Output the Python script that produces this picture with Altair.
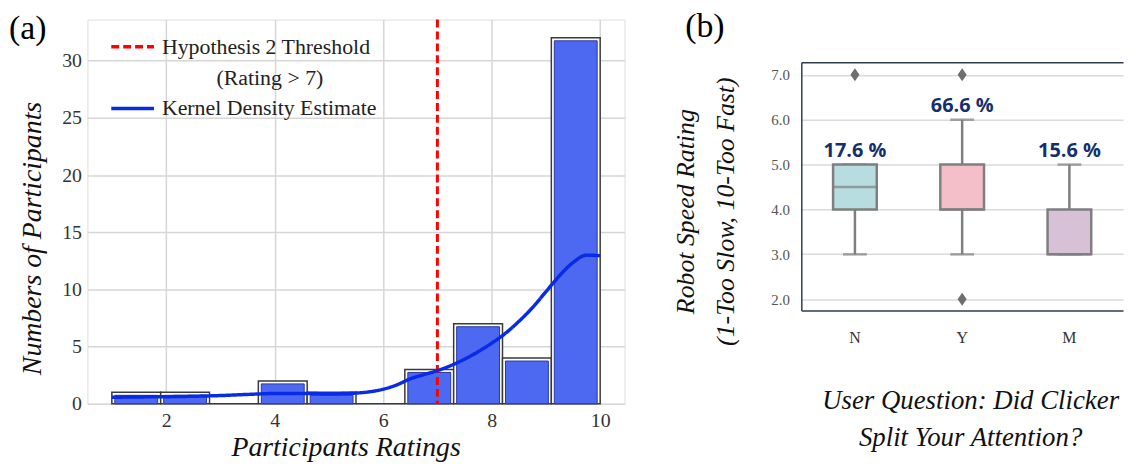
import altair as alt
import pandas as pd

SERIF = "Liberation Serif"
SANS = "Open Sans"
FRAME = "#2f3e4e"

# ---------------- Panel (a) data ----------------
bin_start = [1.0, 1.9, 2.8, 3.7, 4.6, 5.5, 6.4, 7.3, 8.2, 9.1]
bin_end = [1.9, 2.8, 3.7, 4.6, 5.5, 6.4, 7.3, 8.2, 9.1, 10.0]
counts = [1, 1, 0, 2, 1, 0, 3, 7, 4, 32]

kde_x = [1.0, 1.5, 2.0, 2.5, 3.0, 3.5, 4.0, 4.5, 5.0, 5.5, 5.75, 6.0, 6.25, 6.5,
         6.75, 7.0, 7.25, 7.5, 7.75, 8.0, 8.25, 8.5, 8.75, 9.0, 9.25, 9.5, 9.75, 10.0]
kde_y = [0.57, 0.60, 0.62, 0.66, 0.72, 0.82, 0.90, 0.91, 0.88, 0.94, 1.05, 1.27, 1.65, 2.18,
         2.55, 2.90, 3.35, 3.90, 4.55, 5.30, 6.15, 7.20, 8.40, 9.80, 11.20, 12.35, 13.00, 12.95]

threshold = [7]

legend_items = ["Hypothesis 2 Threshold", "\u200b" + "\u2002" * 5 + "(Rating > 7)",
                "Kernel Density Estimate"]
legend_colors = ["#ff0000", "rgba(0,0,0,0)", "#0a2be6"]
legend_dashes = [[8, 4], [1, 0], [1, 0]]

# ---------------- Panel (b) data ----------------
cats = ["N", "Y", "M"]
q1 = [4, 4, 3]
med = [4.5, 4, 3]
q3 = [5, 5, 4]
lo = [3, 3, 3]
hi = [5, 6, 5]
pct_labels = ["17.6 %", "66.6 %", "15.6 %"]
box_colors = ["#b8dde1", "#f5bfc9", "#d6c1d6"]

out_cat = ["N", "Y", "Y"]
out_val = [7, 7, 2]

y_b_min, y_b_max = 1.75, 7.28

# ---------------- Panel (a) ----------------
hist_df = pd.DataFrame({"start": bin_start, "end": bin_end, "count": counts})
kde_df = pd.DataFrame({"x": kde_x, "y": kde_y, "series": legend_items[2]})
thr_df = pd.DataFrame({"x": threshold, "series": legend_items[0]})

xs = alt.Scale(domain=[0.55, 10.45], nice=False, zero=False)
ys = alt.Scale(domain=[0, 33.6], nice=False)

ax_x = alt.Axis(values=[2, 4, 6, 8, 10], labelFont=SERIF, labelFontSize=20, labelColor="#333",
                labelPadding=7, ticks=False, domain=False, grid=True, gridColor="#d6d6d6",
                gridWidth=1.5, title="Participants Ratings", titleFont=SERIF,
                titleFontStyle="italic", titleFontWeight="normal", titleFontSize=28,
                titleColor="#111", titleX=260, titleY=52, titleBaseline="alphabetic")
ax_y = alt.Axis(values=[0, 5, 10, 15, 20, 25, 30], tickCount=20, labelFont=SERIF,
                labelFontSize=20, labelColor="#333", labelPadding=6, ticks=False, domain=False,
                grid=True, gridColor="#d6d6d6", gridWidth=1.5, title="Numbers of Participants",
                titleFont=SERIF, titleFontStyle="italic", titleFontWeight="normal",
                titleFontSize=28, titleColor="#111", titleX=-55, titleY=220,
                titleBaseline="middle")

leg = alt.Legend(title=None, orient="none", legendX=33, legendY=15, symbolType="M-2,0L2,0",
                 symbolSize=462, symbolStrokeWidth=3.5, labelFont=SERIF, labelFontSize=22,
                 labelColor="#222", labelLimit=500, rowPadding=7, labelOffset=17)

color_scale = alt.Scale(domain=legend_items, range=legend_colors)
dash_scale = alt.Scale(domain=legend_items, range=legend_dashes)

outer = alt.Chart(hist_df).mark_rect(fill="white", stroke="#3a3a3a", strokeWidth=1.5).encode(
    x=alt.X("start:Q", scale=xs, axis=ax_x),
    x2="end:Q",
    y=alt.Y("count:Q", scale=ys, axis=ax_y),
    y2=alt.datum(0),
)
inner = alt.Chart(hist_df).transform_filter("datum.count > 0").mark_rect(
    fill="#4d69f1", stroke="#2a37a0", strokeWidth=1, xOffset=3, x2Offset=-3, yOffset=3
).encode(x="start:Q", x2="end:Q", y="count:Q", y2=alt.datum(0))

rule = alt.Chart(thr_df).mark_rule(strokeWidth=3).encode(
    x="x:Q",
    color=alt.Color("series:N", scale=color_scale, legend=leg),
    strokeDash=alt.StrokeDash("series:N", scale=dash_scale, legend=leg),
)
kde = alt.Chart(kde_df).mark_line(strokeWidth=3.5, interpolate="monotone").encode(
    x="x:Q", y="y:Q",
    color=alt.Color("series:N", scale=color_scale, legend=leg),
    strokeDash=alt.StrokeDash("series:N", scale=dash_scale, legend=leg),
)

panel_a = alt.layer(outer, inner, rule, kde).properties(
    width=541, height=387,
    title=alt.TitleParams("(a)", anchor="start", frame="group", dx=-79, offset=-28,
                          font=SERIF, fontSize=34, fontWeight="normal", color="black"),
)

# ---------------- Panel (b) ----------------
box_df = pd.DataFrame({"cat": cats, "q1": q1, "med": med, "q3": q3, "lo": lo, "hi": hi,
                       "pct": pct_labels})
out_df = pd.DataFrame({"cat": out_cat, "val": out_val})

bx = alt.Scale(domain=cats, paddingInner=0, paddingOuter=0)
by = alt.Scale(domain=[y_b_min, y_b_max], nice=False, zero=False)

edge_test = "datum.value < 1.8 || datum.value > 7.2"
ax_bx = alt.Axis(labelFont=SERIF, labelFontSize=16, labelColor="#333", labelPadding=19,
                 labelAngle=0, ticks=False, domain=False, grid=False,
                 title=["User Question: Did Clicker", "Split Your Attention?"],
                 titleFont=SERIF, titleFontStyle="italic", titleFontWeight="normal",
                 titleFontSize=27, titleColor="#111", titleLineHeight=37, titleX=170,
                 titleY=99, titleBaseline="alphabetic")
ax_by = alt.Axis(values=[y_b_min, 2, 3, 4, 5, 6, 7, y_b_max], tickCount=50,
                 labelFont=SERIF, labelFontSize=15,
                 labelColor="#555", labelPadding=12, ticks=False, labelOverlap=False,
                 labelExpr=edge_test + " ? '' : datum.label",
                 domain=True, domainColor=FRAME, domainWidth=1.5, grid=True,
                 gridColor={"condition": {"test": edge_test, "value": FRAME}, "value": "#dadada"},
                 gridWidth=1.5,
                 title=["Robot Speed Rating", "(1-Too Slow, 10-Too Fast)"],
                 titleFont=SERIF, titleFontStyle="italic", titleFontWeight="normal",
                 titleFontSize=26, titleColor="#111", titleLineHeight=41, titleX=-117,
                 titleY=150, titleBaseline="middle")

GRAY = "#7f7f7f"
whisk = alt.Chart(box_df).mark_rule(color=GRAY, strokeWidth=2.5).encode(
    x=alt.X("cat:N", scale=bx, axis=ax_bx, sort=cats),
    y=alt.Y("lo:Q", scale=by, axis=ax_by),
    y2="hi:Q",
)
cap_lo = alt.Chart(box_df).mark_tick(color=GRAY, thickness=2.5, size=24).encode(
    x=alt.X("cat:N", sort=cats), y="lo:Q")
cap_hi = alt.Chart(box_df).mark_tick(color=GRAY, thickness=2.5, size=24).encode(
    x=alt.X("cat:N", sort=cats), y="hi:Q")
box = alt.Chart(box_df).mark_bar(size=44, stroke=GRAY, strokeWidth=2.5).encode(
    x=alt.X("cat:N", sort=cats), y="q1:Q", y2="q3:Q",
    fill=alt.Fill("cat:N", scale=alt.Scale(domain=cats, range=box_colors), legend=None),
)
median = alt.Chart(box_df).mark_tick(color=GRAY, thickness=2.5, size=44).encode(
    x=alt.X("cat:N", sort=cats), y="med:Q")
outl = alt.Chart(out_df).mark_point(shape="M0,-1L0.7,0L0,1L-0.7,0Z", filled=True,
                                     color="#6e6e6e", size=169, opacity=1).encode(
    x=alt.X("cat:N", sort=cats), y="val:Q")
pct = alt.Chart(box_df).mark_text(font=SANS, fontWeight="bold", fontSize=20, color="#14306c",
                                  baseline="alphabetic", dy=-8).encode(
    x=alt.X("cat:N", sort=cats), y="hi:Q", text="pct:N")

panel_b = alt.layer(whisk, cap_lo, cap_hi, box, median, outl, pct).properties(
    width=324, height=250, view=alt.ViewBackground(stroke="transparent"))

# small empty header view that carries the "(b)" panel label above panel (b)
header_b = alt.Chart(pd.DataFrame({"t": [""]})).mark_text().encode(text="t:N").properties(
    width=324, height=1, view=alt.ViewBackground(stroke="transparent"),
    title=alt.TitleParams("(b)", anchor="start", frame="group", dx=-117, offset=-30,
                          font=SERIF, fontSize=34, fontWeight="normal", color="black"),
)

right_col = alt.vconcat(header_b, panel_b, spacing=10)

chart = alt.hconcat(panel_a, right_col, spacing=46).properties(
    padding={"left": 0, "top": 0, "right": 0, "bottom": 0}
).configure_view(stroke=FRAME, strokeWidth=1.5).configure(background="white")

chart.save("out.html", embed_options={"renderer": "svg", "actions": False})
